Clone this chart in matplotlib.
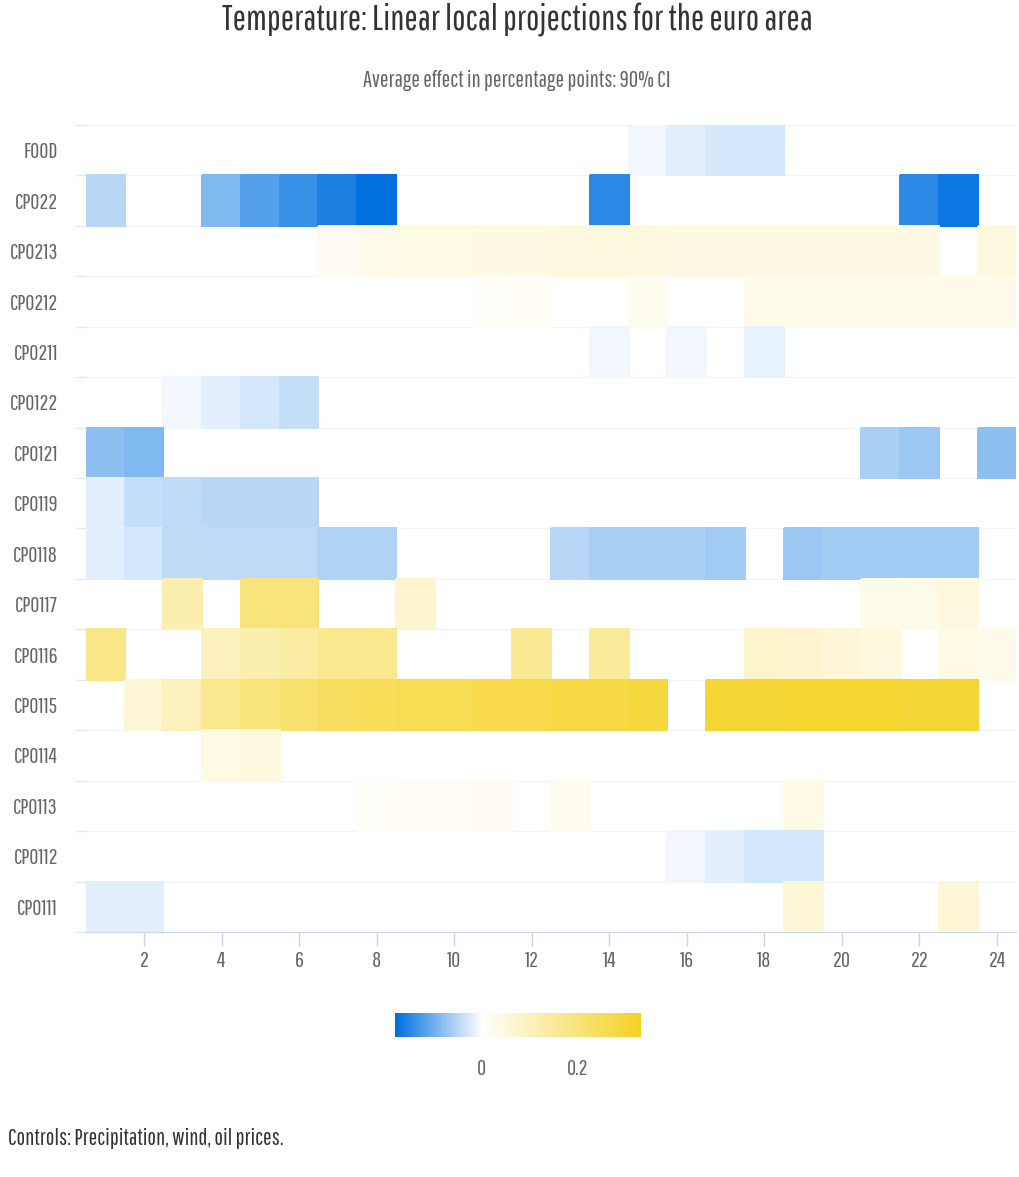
import numpy as np
import matplotlib.pyplot as plt
from matplotlib.colors import LinearSegmentedColormap, Normalize

plt.rcParams['font.family'] = ['Pathway Gothic One', 'Open Sans Condensed', 'DejaVu Sans']

# Données : effet moyen par horizon (1..24), None = non significatif
horizons = list(range(1, 25))
rows = ['FOOD', 'CP022', 'CP0213', 'CP0212', 'CP0211', 'CP0122', 'CP0121', 'CP0119',
        'CP0118', 'CP0117', 'CP0116', 'CP0115', 'CP0114', 'CP0113', 'CP0112', 'CP0111']
N = None
food   = [N, N, N, N, N, N, N, N, N, N, N, N, N, N, -0.01, -0.02, -0.03, -0.03, N, N, N, N, N, N]
cp022  = [-0.05, N, N, -0.09, -0.12, -0.14, -0.16, -0.18, N, N, N, N, N, -0.15, N, N, N, N, N, N, N, -0.15, -0.17, N]
cp0213 = [N, N, N, N, N, N, 0.02, 0.03, 0.04, 0.04, 0.045, 0.045, 0.05, 0.05, 0.05, 0.045, 0.045, 0.045, 0.045, 0.045, 0.045, 0.045, N, 0.05]
cp0212 = [N, N, N, N, N, N, N, N, N, N, 0.01, 0.015, N, N, 0.025, N, N, 0.03, 0.03, 0.03, 0.03, 0.03, 0.03, 0.03]
cp0211 = [N, N, N, N, N, N, N, N, N, N, N, N, N, -0.01, N, -0.01, N, -0.015, N, N, N, N, N, N]
cp0122 = [N, N, -0.01, -0.02, -0.03, -0.04, N, N, N, N, N, N, N, N, N, N, N, N, N, N, N, N, N, N]
cp0121 = [-0.08, -0.09, N, N, N, N, N, N, N, N, N, N, N, N, N, N, N, N, N, N, -0.06, -0.07, N, -0.08]
cp0119 = [-0.02, -0.04, -0.045, -0.05, -0.05, -0.05, N, N, N, N, N, N, N, N, N, N, N, N, N, N, N, N, N, N]
cp0118 = [-0.02, -0.03, -0.045, -0.045, -0.045, -0.045, -0.055, -0.055, N, N, N, N, -0.05, -0.06, -0.06, -0.06, -0.065, N, -0.07, -0.065, -0.065, -0.065, -0.065, N]
cp0117 = [N, N, 0.12, N, 0.2, 0.2, N, N, 0.07, N, N, N, N, N, N, N, N, N, N, N, 0.03, 0.035, 0.05, N]
cp0116 = [0.18, N, N, 0.1, 0.12, 0.14, 0.17, 0.17, N, N, N, 0.16, N, 0.15, N, N, N, 0.08, 0.07, 0.06, 0.05, N, 0.04, 0.03]
cp0115 = [N, 0.06, 0.1, 0.17, 0.2, 0.22, 0.24, 0.25, 0.26, 0.26, 0.27, 0.27, 0.28, 0.28, 0.29, N, 0.3, 0.3, 0.31, 0.31, 0.31, 0.3, 0.3, N]
cp0114 = [N, N, N, 0.04, 0.05, N, N, N, N, N, N, N, N, N, N, N, N, N, N, N, N, N, N, N]
cp0113 = [N, N, N, N, N, N, N, 0.01, 0.015, 0.015, 0.02, N, 0.025, N, N, N, N, N, 0.04, N, N, N, N, N]
cp0112 = [N, N, N, N, N, N, N, N, N, N, N, N, N, N, N, -0.01, -0.02, -0.03, -0.03, N, N, N, N, N]
cp0111 = [-0.02, -0.02, N, N, N, N, N, N, N, N, N, N, N, N, N, N, N, N, 0.06, N, N, N, 0.06, N]

data = [food, cp022, cp0213, cp0212, cp0211, cp0122, cp0121, cp0119,
        cp0118, cp0117, cp0116, cp0115, cp0114, cp0113, cp0112, cp0111]
z = np.array([[np.nan if v is None else v for v in r] for r in data], dtype=float)

vmin, vmax = -0.18, 0.33
mid = -vmin / (vmax - vmin)
cmap = LinearSegmentedColormap.from_list('bwy', [(0, '#0070e0'), (mid, '#ffffff'), (1, '#f4d223')])
norm = Normalize(vmin, vmax)

fig = plt.figure(figsize=(10.2, 11.77), dpi=100)
ax = fig.add_axes([0.0841, 0.2082, 0.9124, 0.6856])

# lignes de grille entre catégories
for b in np.arange(-0.5, len(rows), 1):
    ax.axhline(b, color='#f4f4f4', lw=0.8, zorder=0)

xe = np.arange(0.5, 25.5, 1)
ye = np.arange(-0.5, len(rows), 1)
ax.pcolormesh(xe, ye, np.ma.masked_invalid(z), cmap=cmap, norm=norm,
              edgecolors='face', linewidth=0.3, zorder=1)

ax.set_xlim(0.5, 24.5)
ax.set_ylim(len(rows) - 0.5, -0.5)
ax.set_xticks(range(2, 25, 2))
ax.set_yticks(range(len(rows)))
ax.set_yticklabels(rows)
ax.set_yticks(ye, minor=True)
ax.tick_params(axis='y', which='major', length=0, pad=20, labelsize=16, labelcolor='#666666')
ax.tick_params(axis='y', which='minor', length=7, color='#e6e6e6', width=1)
ax.tick_params(axis='x', length=10, color='#ccd6eb', width=1, labelsize=16,
               labelcolor='#666666', pad=4)
for s in ['top', 'right', 'left']:
    ax.spines[s].set_visible(False)
ax.spines['bottom'].set_color('#ccd6eb')

fig.text(0.507, 0.983, 'Temperature: Linear local projections for the euro area',
         ha='center', va='center', fontsize=25.5, color='#333333')
fig.text(0.507, 0.932, 'Average effect in percentage points: 90% CI',
         ha='center', va='center', fontsize=16.5, color='#666666')

# barre de couleur
cax = fig.add_axes([0.3873, 0.1189, 0.2402, 0.0204])
grad = np.linspace(vmin, vmax, 400).reshape(1, -1)
cax.imshow(grad, aspect='auto', cmap=cmap, norm=norm, extent=[vmin, vmax, 0, 1])
cax.axvline(0, color='white', lw=1)
cax.set_xlim(vmin, vmax)
cax.set_yticks([])
cax.set_xticks([0, 0.2])
cax.set_xticklabels(['0', '0.2'])
cax.tick_params(axis='x', length=0, pad=16, labelsize=16, labelcolor='#666666')
for s in cax.spines.values():
    s.set_visible(False)

fig.text(0.008, 0.033, 'Controls: Precipitation, wind, oil prices.',
         ha='left', va='center', fontsize=16.5, color='#333333')

plt.savefig('out.png', dpi=100)
